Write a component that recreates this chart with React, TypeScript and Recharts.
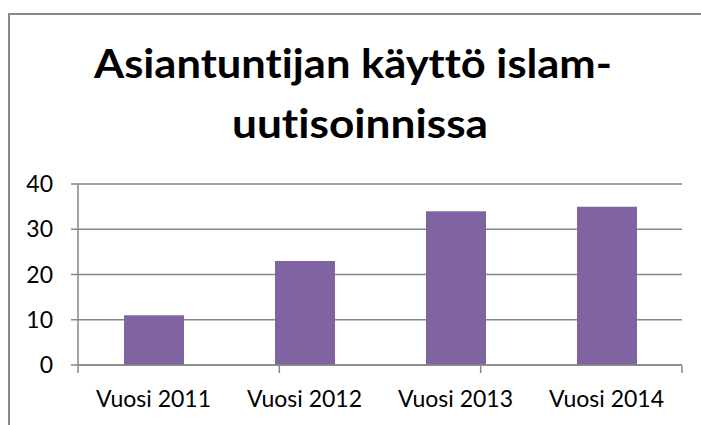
import { BarChart, Bar, XAxis, YAxis, CartesianGrid } from "recharts";

// chart values
const categories = ["Vuosi 2011", "Vuosi 2012", "Vuosi 2013", "Vuosi 2014"];
const values = [11, 23, 34, 35];
const yTicks = [0, 10, 20, 30, 40];
const edgeTicks = [0, 1, 2, 3, 4];
const titleLines = ["Asiantuntijan käyttö islam-", "uutisoinnissa"];

const data = categories.map((name, i) => ({ name, value: values[i] }));

const FONT = "Lato, 'Open Sans', sans-serif";
const GRID = "#868686";
const noLig = { fontVariantLigatures: "none" as const, fontFeatureSettings: "'liga' 0, 'clig' 0" };

export default function App() {
  return (
    <div style={{ position: "absolute", left: 0, top: 0, width: 701, height: 425, background: "#fff", overflow: "hidden" }}>
      {/* frame of the chart area, cropped on the right and bottom */}
      <div
        style={{
          position: "absolute",
          left: 8,
          top: 13,
          width: 693,
          height: 412,
          borderLeft: "2px solid #898989",
          borderTop: "2px solid #898989",
          boxSizing: "border-box",
        }}
      />
      <svg width={701} height={170} style={{ position: "absolute", left: 0, top: 0, ...noLig }}>
        <text
          x={353}
          y={78}
          textAnchor="middle"
          fontFamily={FONT}
          fontWeight={700}
          fontSize={40}
          fill="#000"
          textLength={518}
          lengthAdjust="spacingAndGlyphs"
        >
          {titleLines[0]}
        </text>
        <text
          x={360}
          y={138}
          textAnchor="middle"
          fontFamily={FONT}
          fontWeight={700}
          fontSize={40}
          fill="#000"
          textLength={256}
          lengthAdjust="spacingAndGlyphs"
        >
          {titleLines[1]}
        </text>
      </svg>
      <div style={{ position: "absolute", left: 0, top: 0 }}>
        <BarChart
          width={701}
          height={425}
          data={data}
          margin={{ top: 184, right: 19, bottom: 58, left: 0 }}
          style={{ fontFamily: FONT }}
        >
          <CartesianGrid vertical={false} stroke={GRID} strokeWidth={1.5} />
          <XAxis
            dataKey="name"
            height={1}
            tickLine={false}
            axisLine={{ stroke: GRID, strokeWidth: 1.5 }}
            tickSize={0}
            tickMargin={26}
            tick={{ fill: "#000", fontSize: 23 }}
            interval={0}
          />
          {/* category boundary ticks */}
          <XAxis
            xAxisId="edges"
            type="number"
            domain={[0, 4]}
            ticks={edgeTicks}
            interval={0}
            height={1}
            axisLine={false}
            tickFormatter={() => ""}
            tickSize={7}
            tickLine={{ stroke: GRID, strokeWidth: 1.5 }}
          />
          <YAxis
            width={78}
            domain={[0, 40]}
            ticks={yTicks}
            tickSize={7}
            tickMargin={18}
            axisLine={{ stroke: GRID, strokeWidth: 1.5 }}
            tickLine={{ stroke: GRID, strokeWidth: 1.5 }}
            tick={{ fill: "#000", fontSize: 23 }}
          />
          <Bar dataKey="value" fill="#8064A2" barSize={60} isAnimationActive={false} />
        </BarChart>
      </div>
    </div>
  );
}
